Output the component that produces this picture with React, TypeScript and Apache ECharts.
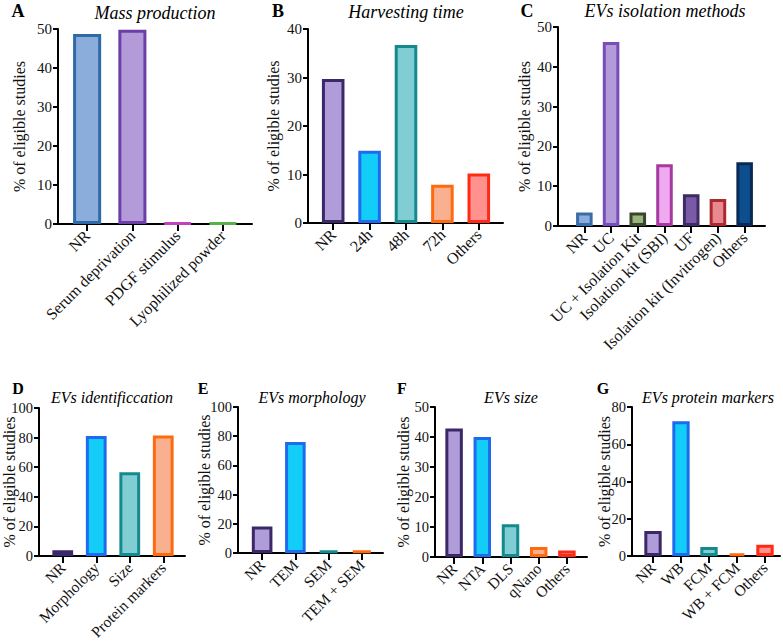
import React, { useEffect, useRef } from "react";
import * as echarts from "echarts";

const catA = ["NR", "Serum deprivation", "PDGF stimulus", "Lyophilized powder"];
const valA = [48.7, 49.8, 0.3, 0.3];
const catB = ["NR", "24h", "48h", "72h", "Others"];
const valB = [29.7, 14.9, 36.7, 7.9, 10.2];
const catC = ["NR", "UC", "UC + Isolation Kit", "Isolation kit (SBI)", "UF", "Isolation kit (Invitrogen)", "Others"];
const valC = [3.4, 46.2, 3.4, 15.5, 8.0, 6.8, 16.0];
const catD = ["NR", "Morphology", "Size", "Protein markers"];
const valD = [3.9, 81.0, 56.6, 81.4];
const catE = ["NR", "TEM", "SEM", "TEM + SEM"];
const valE = [18.2, 76.0, 1.8, 1.8];
const catF = ["NR", "NTA", "DLS", "qNano", "Others"];
const valF = [42.8, 40.0, 10.9, 3.3, 2.2];
const catG = ["NR", "WB", "FCM", "WB + FCM", "Others"];
const valG = [13.4, 72.3, 4.8, 1.4, 6.1];

const titles = ["Mass production", "Harvesting time", "EVs isolation methods", "EVs identificcation", "EVs morphology", "EVs size", "EVs protein markers"];
const letters = ["A", "B", "C", "D", "E", "F", "G"];
const yMax = [50, 40, 50, 100, 100, 50, 80];
const yStep = [10, 10, 10, 20, 20, 10, 20];
const yName = "% of eligible studies";

const P = { f: "#B09CD8", b: "#3B2868" };
const CY = { f: "#12CDF8", b: "#1F6BEF" };
const TE = { f: "#80CED3", b: "#148A8F" };
const PE = { f: "#F8B08F", b: "#FF6A0F" };
const SA = { f: "#FF928F", b: "#FF2A14" };

const colA = [{ f: "#8AADDC", b: "#2F6AA6" }, { f: "#B39BDA", b: "#6B3FA6" }, { f: "#C53FC0", b: "#C53FC0" }, { f: "#58B04A", b: "#58B04A" }];
const colB = [P, CY, TE, PE, SA];
const colC = [
  { f: "#8AADDC", b: "#3A6CA8" }, { f: "#B39BDA", b: "#7A4CB8" }, { f: "#9BB57A", b: "#384530" },
  { f: "#F0AAF0", b: "#A63AA0" }, { f: "#7A5AA6", b: "#3C2C66" }, { f: "#E88890", b: "#AA2A30" }, { f: "#0C4E8E", b: "#0A2A55" },
];
const colD = [P, CY, TE, PE];
const colE = [P, CY, TE, PE];
const colF = [P, CY, TE, PE, SA];
const colG = [P, CY, TE, PE, SA];

const cats = [catA, catB, catC, catD, catE, catF, catG];
const vals = [valA, valB, valC, valD, valE, valF, valG];
const cols = [colA, colB, colC, colD, colE, colF, colG];

// layout: outer axis box [left, right, top, bottom], inner category span [left, right]
const layout = [
  { o: [58, 252, 29, 224], i: [64.5, 245.5], ng: 31, yfs: 15, fs: 16, cfs: 16, lx: 18, ly: 11, tx: 155, ty: 13, tfs: 18 },
  { o: [308, 503, 29, 223], i: [315, 497], ng: 27, yfs: 15, fs: 16, cfs: 16, lx: 278, ly: 11, tx: 406, ty: 12, tfs: 18 },
  { o: [558, 765, 27, 226], i: [571, 758], ng: 26, yfs: 15, fs: 16, cfs: 16, lx: 527, ly: 11, tx: 665, ty: 11, tfs: 18 },
  { o: [39, 185, 408, 556], i: [46, 180], ng: 22, yfs: 14.5, fs: 16, cfs: 15.5, lx: 18, ly: 388, tx: 112, ty: 397, tfs: 16 },
  { o: [238, 383, 407, 553], i: [245.5, 378.5], ng: 26, yfs: 14.5, fs: 16, cfs: 15.5, lx: 203, ly: 388, tx: 312, ty: 397, tfs: 16 },
  { o: [435, 587, 407, 557], i: [440, 581], ng: 24, yfs: 14.5, fs: 16, cfs: 15.5, lx: 402, ly: 388, tx: 511, ty: 397, tfs: 16 },
  { o: [632, 780, 407, 556], i: [639, 779], ng: 20, yfs: 14.5, fs: 16, cfs: 15.5, lx: 603, ly: 388, tx: 708, ty: 397, tfs: 16 },
];

const FONT = "'Liberation Serif', 'Times New Roman', Times, 'DejaVu Serif', serif";

export default function App() {
  const ref = useRef<HTMLDivElement>(null);
  useEffect(() => {
    if (!ref.current) return;
    const chart = echarts.init(ref.current, undefined, { renderer: "svg" });
    const grid: any[] = [];
    const xAxis: any[] = [];
    const yAxis: any[] = [];
    const series: any[] = [];
    const graphic: any[] = [];
    layout.forEach((L, k) => {
      const [ol, or, ot, ob] = L.o;
      const [il, ir] = L.i;
      const go = grid.length;
      grid.push({ left: ol, top: ot, width: or - ol, height: ob - ot, containLabel: false, outerBoundsMode: "none" });
      grid.push({ left: il, top: ot, width: ir - il, height: ob - ot, containLabel: false, outerBoundsMode: "none" });
      xAxis.push({
        type: "value", gridIndex: go, min: 0, max: 1,
        axisLine: { show: true, lineStyle: { color: "#000", width: 2 } },
        axisTick: { show: false }, axisLabel: { show: false }, splitLine: { show: false },
      });
      yAxis.push({
        type: "value", gridIndex: go, min: 0, max: yMax[k], interval: yStep[k],
        axisLine: { show: true, lineStyle: { color: "#000", width: 2 } },
        axisTick: { show: true, length: 5, lineStyle: { color: "#000", width: 2 } },
        axisLabel: { color: "#111", fontFamily: FONT, fontSize: L.yfs, margin: 6 },
        splitLine: { show: false },
        name: yName, nameLocation: "middle", nameGap: L.ng, nameMoveOverlap: false,
        nameTextStyle: { color: "#111", fontFamily: FONT, fontSize: L.fs },
      });
      xAxis.push({
        type: "category", gridIndex: go + 1, data: cats[k],
        axisLine: { show: false },
        axisTick: { show: true, alignWithLabel: true, length: 7, lineStyle: { color: "#000", width: 2 } },
        axisLabel: { rotate: 45, interval: 0, margin: 9, color: "#111", fontFamily: FONT, fontSize: L.cfs },
      });
      yAxis.push({ type: "value", gridIndex: go + 1, min: 0, max: yMax[k], show: false, splitLine: { show: false } });
      const xi = xAxis.length - 1;
      const yi = yAxis.length - 1;
      series.push({
        type: "bar", xAxisIndex: xi, yAxisIndex: yi, barWidth: "62%",
        data: vals[k].map((v, j) => ({
          value: v,
          itemStyle: { color: cols[k][j].f, borderColor: cols[k][j].b, borderWidth: 3 },
        })),
      });
      graphic.push({
        type: "text", x: L.lx, y: L.ly,
        style: { text: letters[k], font: `bold ${L.tfs}px ${FONT}`, fill: "#000", textAlign: "center", textVerticalAlign: "middle" },
      });
      graphic.push({
        type: "text", x: L.tx, y: L.ty,
        style: { text: titles[k], font: `italic ${L.tfs}px ${FONT}`, fill: "#000", textAlign: "center", textVerticalAlign: "middle" },
      });
    });
    chart.setOption({ animation: false, backgroundColor: "#fff", grid, xAxis, yAxis, series, graphic });
    return () => chart.dispose();
  }, []);
  return <div ref={ref} style={{ position: "absolute", left: 0, top: 0, width: 783, height: 641 }} />;
}
